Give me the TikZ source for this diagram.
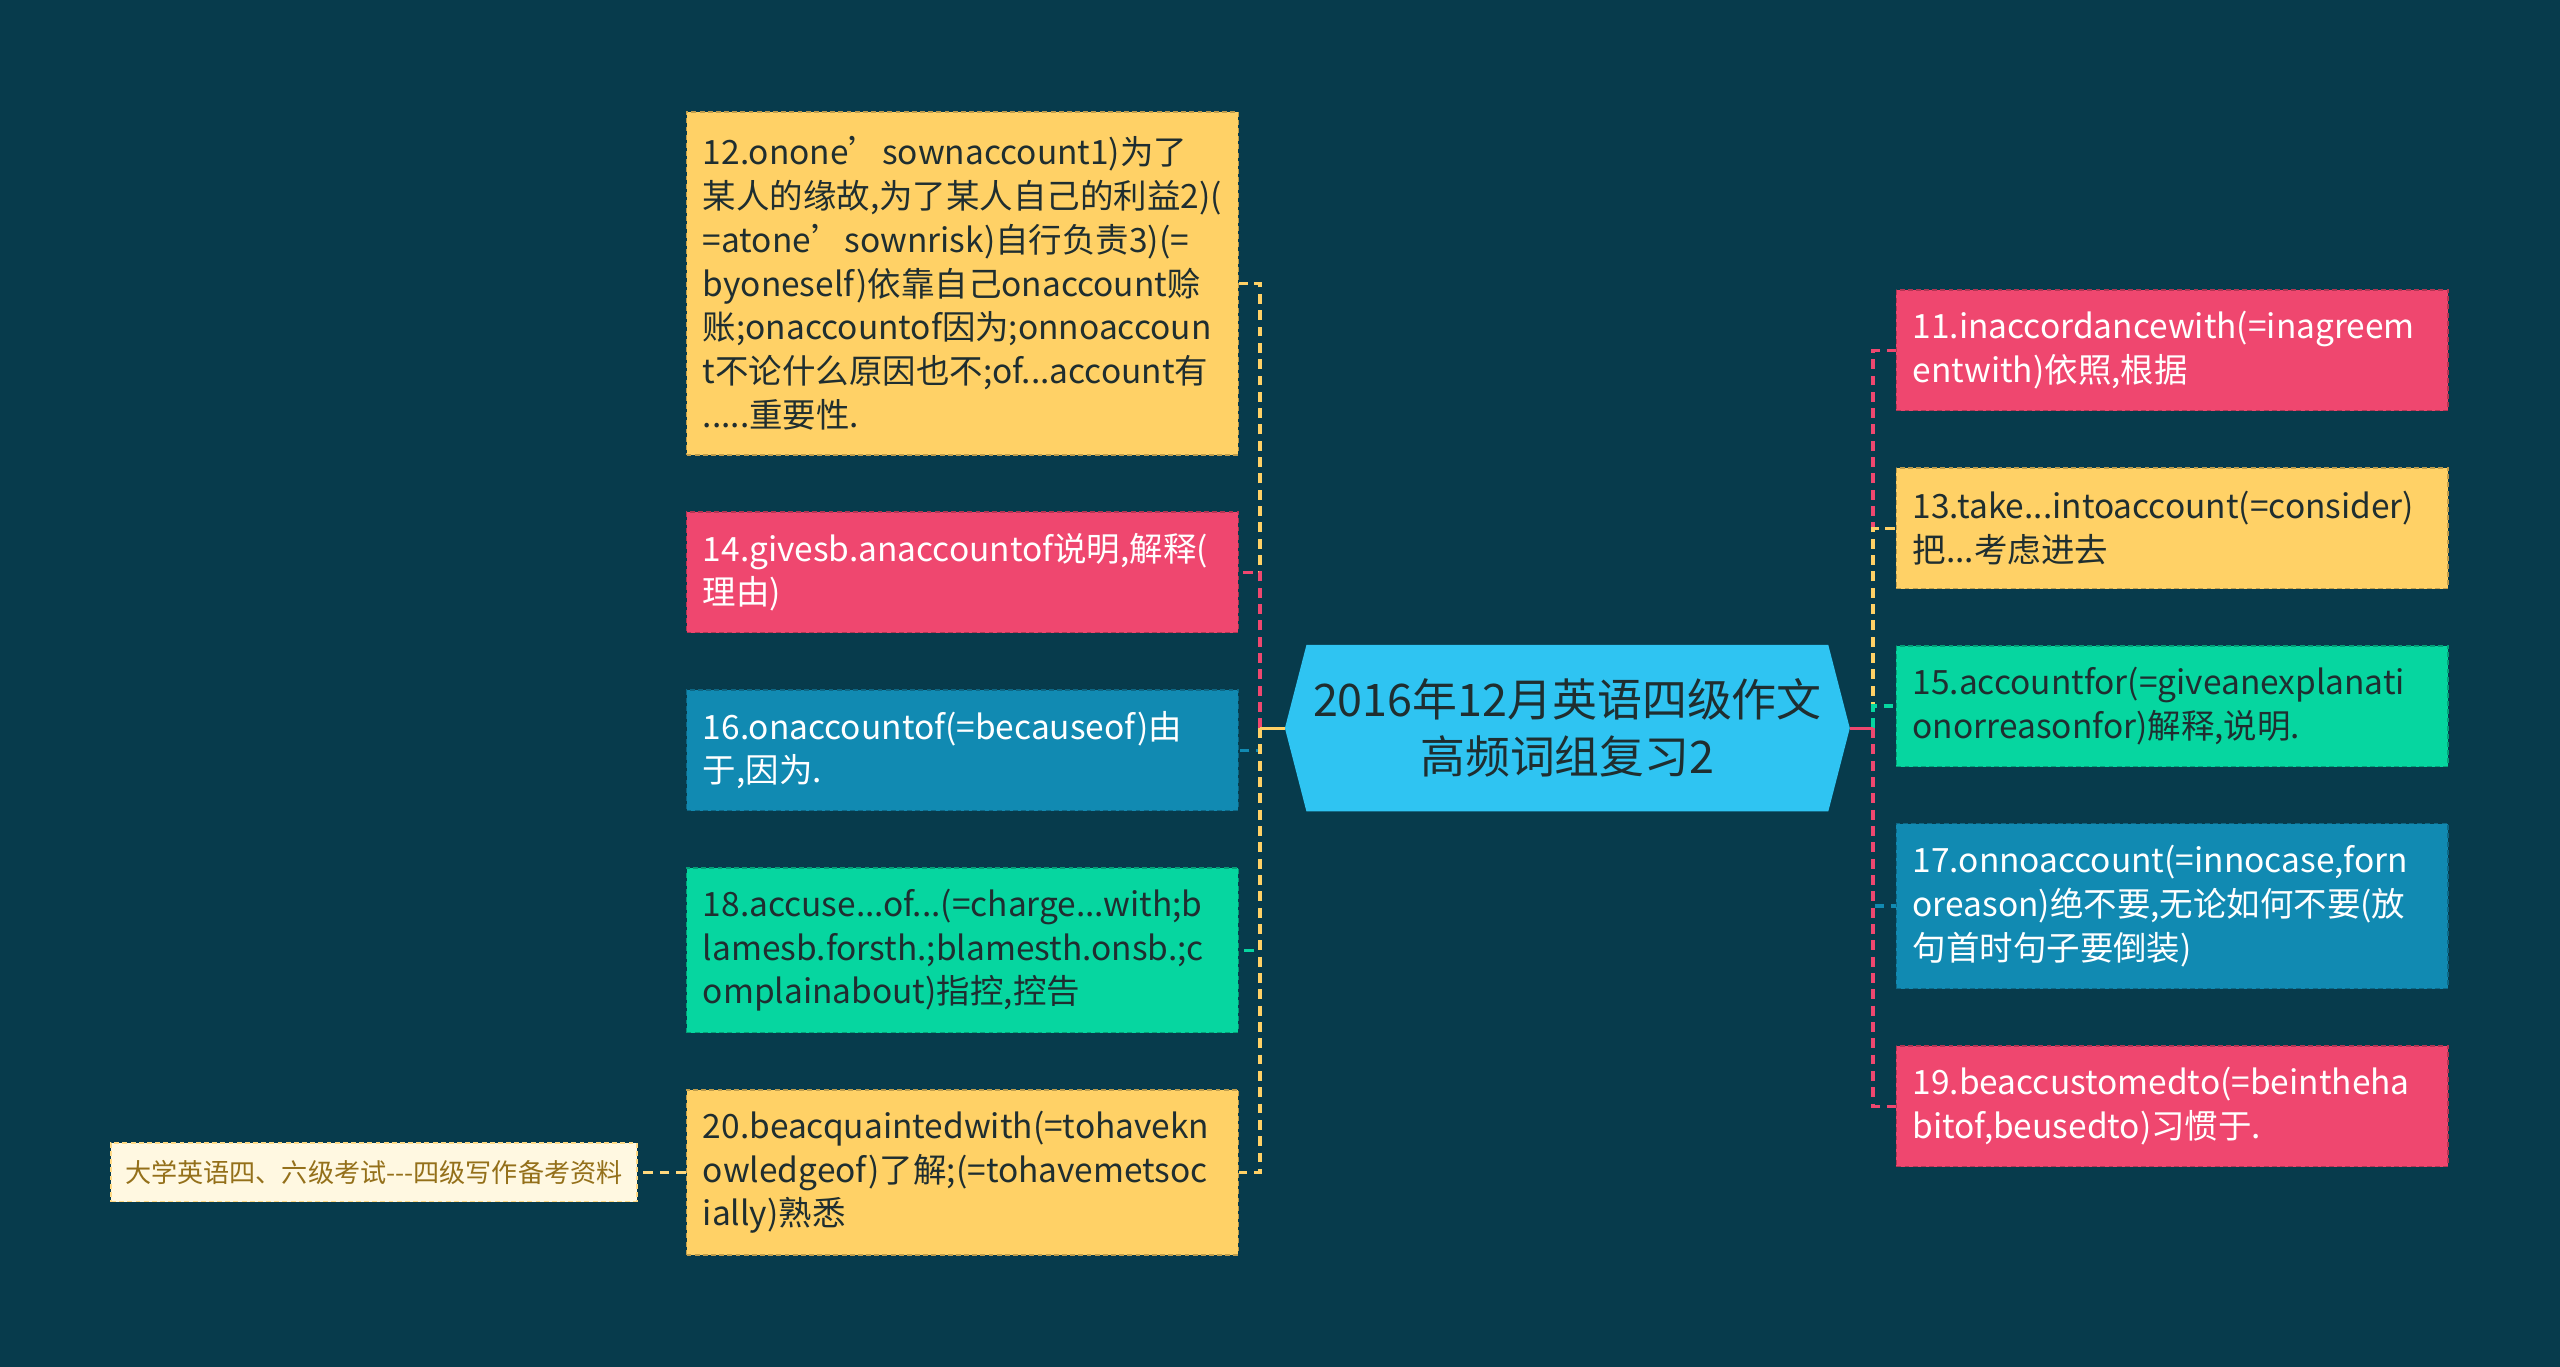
\documentclass[tikz,border=0pt]{standalone}
\usepackage{fontspec}
\setmainfont{Noto Sans CJK SC}
\usetikzlibrary{positioning,calc,shapes.symbols}

\definecolor{bgdark}{HTML}{073B4C}
\definecolor{sunny}{HTML}{FFD166}
\definecolor{rose}{HTML}{EF476F}
\definecolor{mint}{HTML}{06D6A0}
\definecolor{ocean}{HTML}{118AB2}
\definecolor{sky}{HTML}{2FC4F2}
\definecolor{inkdark}{HTML}{1F2E30}
\definecolor{cream}{HTML}{FFF8E1}
\definecolor{gold}{HTML}{94701A}

\tikzset{
  leaf/.style={draw,dash pattern=on 3pt off 2pt,line width=1pt,
    anchor=north west,align=left,text width=318pt,
    inner xsep=10pt,inner ysep=0pt,
    font=\fontsize{20.5}{26.8}\selectfont},
  sunnybox/.style={fill=sunny,draw=sunny!75!black,text=inkdark},
  rosebox/.style={fill=rose,draw=rose!75!black,text=white},
  mintbox/.style={fill=mint,draw=mint!75!black,text=inkdark},
  oceanbox/.style={fill=ocean,draw=ocean!75!black,text=white},
}

\begin{document}
\begin{tikzpicture}[x=1pt,y=-1pt]
  \fill[bgdark] (0,0) rectangle (1568,837);
  \useasboundingbox (0,0) rectangle (1568,837);
  \node[shape=signal,signal to=west and east,signal pointer angle=151,
    fill=sky,text=inkdark,align=center,inner sep=0pt,
    minimum width=346pt,minimum height=102pt,
    font=\fontsize{27.5}{35}\selectfont]
    (title) at (960,446) {2016年12月英语四级作文\\高频词组复习2};
  \coordinate (lhub) at ($(title.west)+(-15,0)$);
  \coordinate (rhub) at ($(title.east)+(14,0)$);
  % left column
  \path (420,68)
    node[leaf,sunnybox,minimum height=210pt](ownacc){12.onone’sownaccount1)为了\\某人的缘故,为了某人自己的利益2)(\\=atone’sownrisk)自行负责3)(=\\byoneself)依靠自己onaccount赊\\账;onaccountof因为;onnoaccoun\\t不论什么原因也不;of...account有\\.....重要性.}
    ++(0,245) node[leaf,rosebox,minimum height=74pt](give){14.givesb.anaccountof说明,解释(\\理由)}
    ++(0,109) node[leaf,oceanbox,minimum height=74pt](onaccof){16.onaccountof(=becauseof)由\\于,因为.}
    ++(0,109) node[leaf,mintbox,minimum height=101pt](accuse){18.accuse...of...(=charge...with;b\\lamesb.forsth.;blamesth.onsb.;c\\omplainabout)指控,控告}
    ++(0,136) node[leaf,sunnybox,minimum height=101pt](acquaint){20.beacquaintedwith(=tohavekn\\owledgeof)了解;(=tohavemetsoc\\ially)熟悉};
  % right column
  \path (1161,177)
    node[leaf,rosebox,minimum height=74pt](accord){11.inaccordancewith(=inagreem\\entwith)依照,根据}
    ++(0,109) node[leaf,sunnybox,minimum height=74pt](take){13.take...intoaccount(=consider)\\把...考虑进去}
    ++(0,109) node[leaf,mintbox,minimum height=74pt](accfor){15.accountfor(=giveanexplanati\\onorreasonfor)解释,说明.}
    ++(0,109) node[leaf,oceanbox,minimum height=101pt](noacc){17.onnoaccount(=innocase,forn\\oreason)绝不要,无论如何不要(放\\句首时句子要倒装)}
    ++(0,136) node[leaf,rosebox,minimum height=74pt](accustom){19.beaccustomedto(=beintheha\\bitof,beusedto)习惯于.};
  \node[fill=cream,draw=sunny!80!white,dash pattern=on 3pt off 2pt,line width=1pt,
    text=gold,minimum width=322pt,minimum height=36pt,inner sep=0pt,
    font=\fontsize{16}{18}\selectfont]
    (source) at (229,718) {大学英语四、六级考试-{}-{}-四级写作备考资料};
  \begin{scope}[every path/.style={draw,line width=2pt,dash pattern=on 6pt off 4pt}]
    \foreach \n/\c in {ownacc/sunny,give/rose,onaccof/ocean,accuse/mint,acquaint/sunny}
      \path[\c] (lhub) |- (\n.east);
    \foreach \n/\c in {accord/rose,take/sunny,accfor/mint,noacc/ocean,accustom/rose}
      \path[\c] (rhub) |- (\n.west);
    \path[sunny!85!white] (acquaint.west) -- (source.east);
  \end{scope}
  \draw[sunny,line width=2pt] (title.west) -- (lhub);
  \draw[rose,line width=2pt] (title.east) -- (rhub);
\end{tikzpicture}
\end{document}
